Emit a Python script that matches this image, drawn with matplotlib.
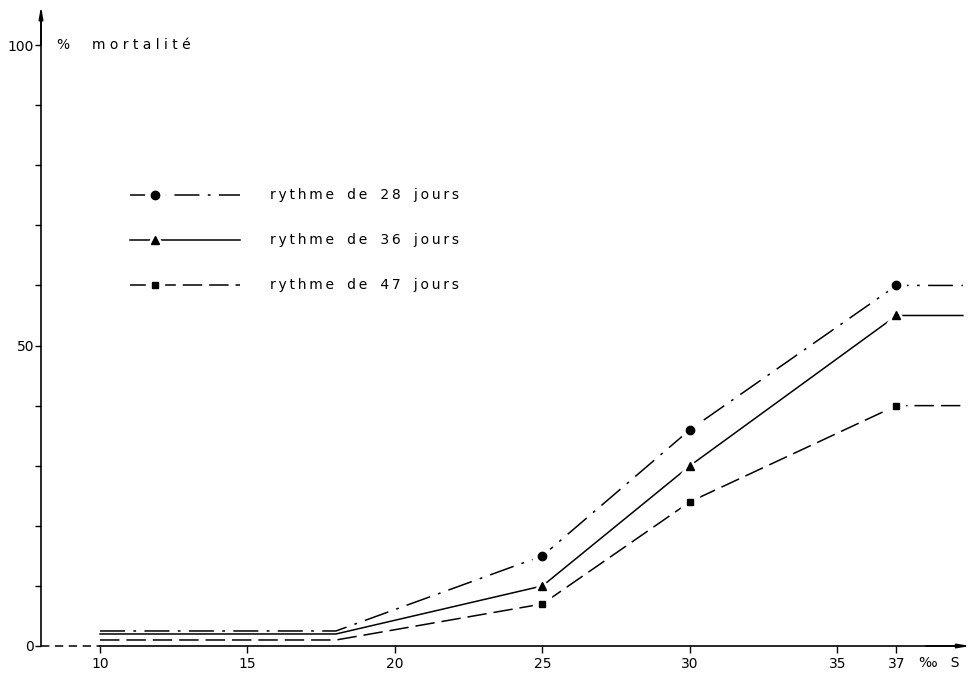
"""
Mortality vs salinity for three moult rhythms (redrawn figure)
"""

import matplotlib.pyplot as plt

# salinity (per mille), the last point only carries the line on past 37
salinity = [10, 18, 25, 30, 37, 39.25]

# % mortality for each rhythm
rythme_28 = [2.5, 2.5, 15, 36, 60, 60]
rythme_36 = [2, 2, 10, 30, 55, 55]
rythme_47 = [1, 1, 7, 24, 40, 40]

series_labels = ['rythme de 28 jours', 'rythme de 36 jours', 'rythme de 47 jours']

x_ticks = [10, 15, 20, 25, 30, 35, 37]
x_tick_labels = ['10', '15', '20', '25', '30', '35', '37']
y_ticks = [0, 10, 20, 30, 40, 50, 60, 70, 80, 90, 100]
y_tick_labels = ['0', '', '', '', '', '50', '', '', '', '', '100']

plt.rcParams['font.family'] = ['DejaVu Sans']
plt.rcParams['lines.scale_dashes'] = False


def spaced(text, sep='\u2009'):
    """@brief mimics the wide lettering of the original stencil text"""
    words = text.split(' ')
    return '   '.join(sep.join(w) for w in words)


def draw_series(ax, y, style, marker, msize, label, legend_y):
    """@brief draws one rhythm curve plus its hand made legend row"""
    ax.plot(salinity, y, color='black', lw=1.1, linestyle=style)
    # white halo so the line stops short of the marker, as in the drawing
    ax.plot(salinity[2:5], y[2:5], linestyle='none', marker=marker,
            markersize=msize + 8, color='white')
    ax.plot(salinity[2:5], y[2:5], linestyle='none', marker=marker,
            markersize=msize, color='black')

    # legend row: line sample, marker, text
    ax.plot([11.0, 14.75], [legend_y, legend_y], color='black', lw=1.1, linestyle=style)
    ax.plot([11.85], [legend_y], linestyle='none', marker=marker,
            markersize=msize + 8, color='white')
    ax.plot([11.85], [legend_y], linestyle='none', marker=marker,
            markersize=msize, color='black')
    ax.text(15.75, legend_y, spaced(label), fontsize=10, va='center', ha='left')


fig = plt.figure(figsize=(9.72, 6.74), dpi=100)
ax = fig.add_axes([0, 0, 1, 1])
ax.set_xlim(6.61, 39.56)
ax.set_ylim(-4.66, 107.5)
ax.patch.set_visible(False)

# axes drawn like the original: crossing at (8, 0), arrows at the ends
ax.spines['top'].set_visible(False)
ax.spines['right'].set_visible(False)
ax.spines['left'].set_position(('data', 8))
ax.spines['left'].set_bounds(0, 104)
ax.spines['bottom'].set_position(('data', 0))
ax.spines['bottom'].set_bounds(10, 39)
for side in ('left', 'bottom'):
    ax.spines[side].set_linewidth(1.2)
ax.plot([8, 10], [0, 0], color='black', lw=1.1, linestyle=(0, (6, 4)))
ax.annotate('', xy=(8, 106.5), xytext=(8, 100),
            arrowprops=dict(arrowstyle='-|>,head_length=0.7,head_width=0.12',
                            color='black', lw=1.2, shrinkA=0, shrinkB=0))
ax.annotate('', xy=(39.5, 0), xytext=(38, 0),
            arrowprops=dict(arrowstyle='-|>,head_length=0.7,head_width=0.12',
                            color='black', lw=1.2, shrinkA=0, shrinkB=0))

ax.set_xticks(x_ticks, x_tick_labels)
ax.set_yticks(y_ticks, y_tick_labels)
ax.tick_params(axis='x', direction='out', length=5, width=1, pad=3, labelsize=10)
ax.tick_params(axis='y', direction='out', length=4, width=1, pad=1, labelsize=10)

ax.text(37.75, -1.6, '\u2030   S', fontsize=10, va='top', ha='left')
ax.text(8.54, 100, '%     ' + spaced('mortalité', sep=' '), fontsize=10, va='center', ha='left')

draw_series(ax, rythme_28, (0, (18, 6, 2, 6)), 'o', 6, series_labels[0], 75.0)
draw_series(ax, rythme_36, '-', '^', 6, series_labels[1], 67.6)
draw_series(ax, rythme_47, (0, (14, 5)), 's', 4.5, series_labels[2], 60.1)

plt.savefig('out.png', dpi=100)
